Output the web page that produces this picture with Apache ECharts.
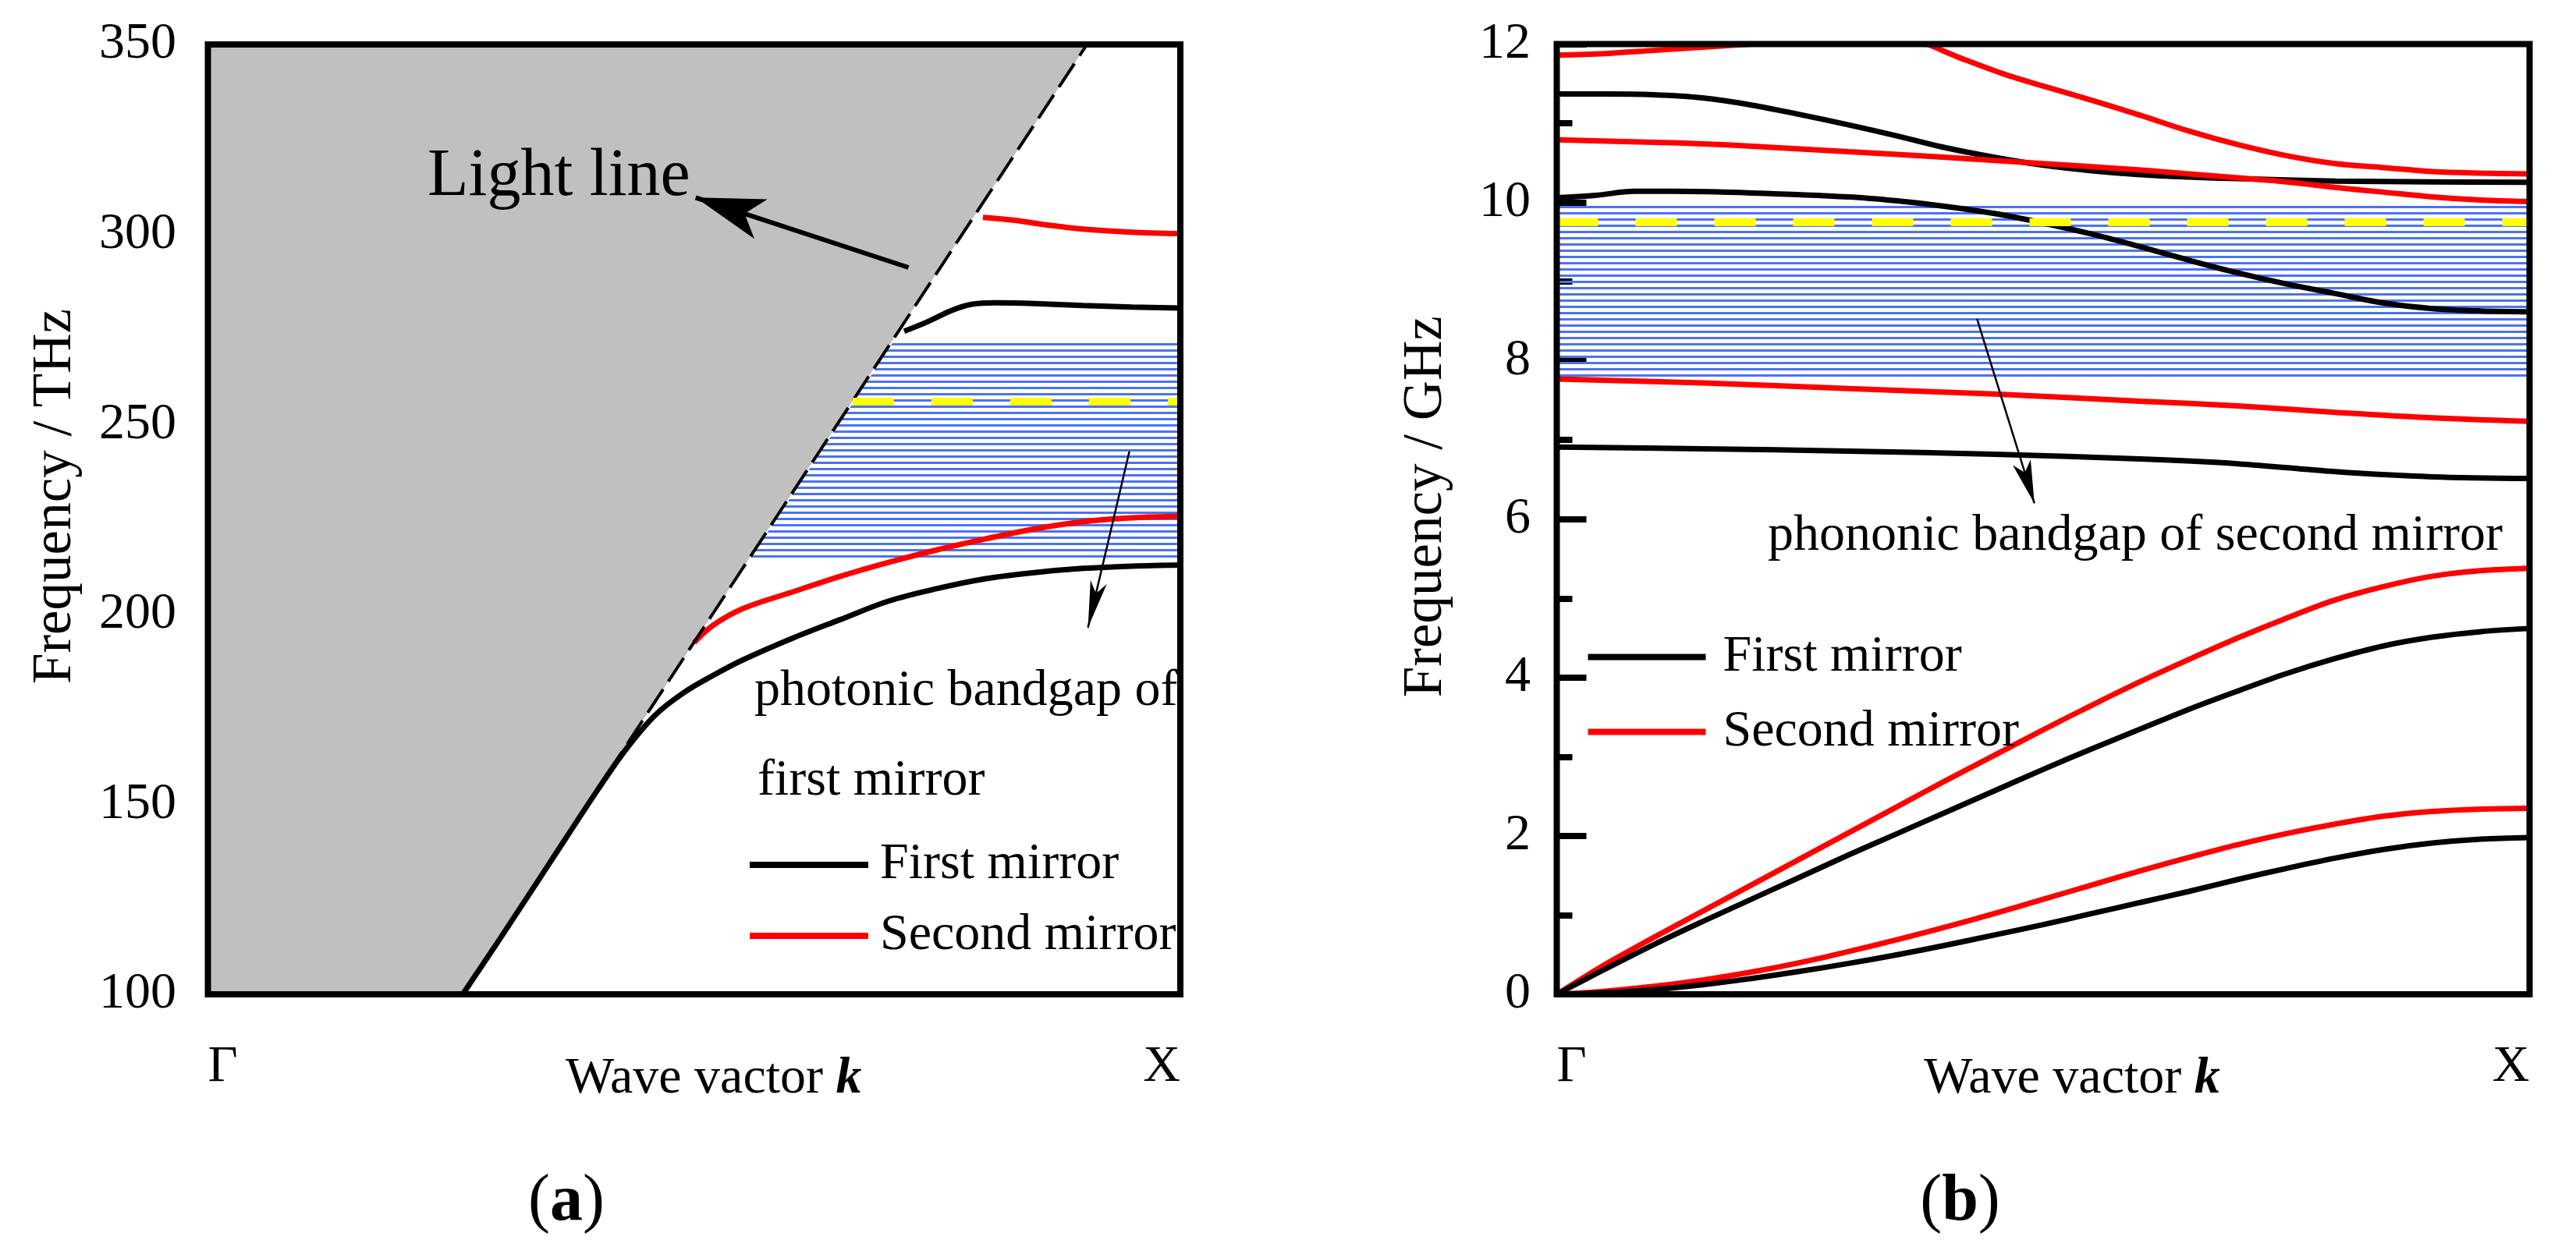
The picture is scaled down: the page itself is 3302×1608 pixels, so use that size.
<!DOCTYPE html>
<html>
<head>
<meta charset="utf-8">
<script src="https://cdn.jsdelivr.net/npm/echarts@6/dist/echarts.min.js"></script>
<style>html,body{margin:0;padding:0;background:#fff}#c{width:3302px;height:1608px}</style>
</head>
<body>
<div id="c"></div>
<script>
const FONT = "'Liberation Serif','Times New Roman',serif";

// ---------- shared ----------
const xTickLabels = ['Γ', 'X'];
const seriesNames = ['First mirror', 'Second mirror'];

// ---------- panel (a): photonic, THz ----------
const aYRange = [100, 350, 50];
const aLightLine = [[0.262, 100], [0.904, 350]];
const aLightCone = [[0, 100], [0.262, 100], [0.904, 350]];
const aBandGap = [[0.556, 214], [1, 214], [1, 271.8], [0.705, 271.8]];
const aYellow = [[0.663, 256], [1, 256]];
const aFirst1 = [[0.262,100],[0.3,114.5],[0.35,134],[0.4,153.5],[0.43,164.5],[0.46,173.5],[0.49,179.5],[0.52,184],[0.55,188],[0.6,193.6],[0.65,198.6],[0.7,203.5],[0.75,206.8],[0.8,209.4],[0.85,211],[0.9,212.1],[0.95,212.7],[1,213]];
const aSecond1 = [[0.5,192.6],[0.52,197.2],[0.55,201.5],[0.6,205.8],[0.65,210],[0.7,213.7],[0.75,217],[0.8,219.9],[0.85,222.5],[0.9,224.4],[0.95,225.4],[1,225.8]];
const aFirst2 = [[0.716,274.5],[0.74,277],[0.765,280],[0.785,281.6],[0.81,282],[0.85,281.8],[0.9,281.3],[0.95,280.9],[1,280.6]];
const aSecond2 = [[0.797,304.5],[0.83,303.7],[0.86,302.6],[0.9,301.4],[0.95,300.6],[1,300.2]];
const aArrowLight = [[0.7204, 291.3], [0.5016, 309.7]];
const aArrowGap = [[0.9476, 242.9], [0.905, 196.5]];

// ---------- panel (b): phononic, GHz ----------
const bYRange = [0, 12, 2];
const bBandGap = [[0, 7.79], [1, 7.79], [1, 9.96], [0, 9.96]];
const bYellow = [[0, 9.75], [1, 9.75]];
const bSecond1 = [[0,11.86],[0.05,11.88],[0.1,11.92],[0.15,11.96],[0.2,12.0],[0.25,12.03],[0.3,12.06],[0.35,12.04],[0.38,12.0],[0.4,11.9],[0.42,11.8],[0.46,11.62],[0.5,11.47],[0.55,11.29],[0.6,11.1],[0.65,10.9],[0.7,10.73],[0.75,10.59],[0.8,10.49],[0.85,10.44],[0.9,10.39],[0.95,10.37],[1,10.36]];
const bFirst1 = [[0,11.37],[0.05,11.37],[0.1,11.36],[0.15,11.32],[0.2,11.23],[0.25,11.11],[0.3,10.98],[0.35,10.84],[0.4,10.69],[0.45,10.57],[0.5,10.47],[0.55,10.4],[0.6,10.35],[0.65,10.32],[0.7,10.3],[0.8,10.27],[0.9,10.26],[1,10.255]];
const bSecond2 = [[0,10.79],[0.1,10.76],[0.15,10.74],[0.2,10.71],[0.3,10.64],[0.4,10.57],[0.5,10.49],[0.6,10.41],[0.65,10.36],[0.7,10.31],[0.75,10.26],[0.8,10.19],[0.85,10.13],[0.9,10.07],[0.95,10.03],[1,10.01]];
const bFirst2 = [[0,10.06],[0.04,10.09],[0.08,10.14],[0.12,10.14],[0.2,10.12],[0.3,10.07],[0.35,10.02],[0.4,9.95],[0.45,9.86],[0.5,9.74],[0.55,9.6],[0.6,9.44],[0.65,9.27],[0.7,9.11],[0.75,8.97],[0.8,8.85],[0.85,8.73],[0.9,8.66],[0.95,8.63],[1,8.62]];
const bSecond3 = [[0,7.77],[0.15,7.72],[0.3,7.65],[0.45,7.58],[0.6,7.49],[0.7,7.43],[0.8,7.35],[0.9,7.28],[1,7.235]];
const bFirst3 = [[0,6.91],[0.15,6.89],[0.3,6.86],[0.45,6.82],[0.6,6.76],[0.7,6.7],[0.8,6.6],[0.9,6.535],[1,6.515]];
const bSecond4 = [[0,0],[0.05,0.38],[0.1,0.72],[0.15,1.05],[0.2,1.38],[0.25,1.71],[0.3,2.04],[0.35,2.37],[0.4,2.7],[0.45,3.02],[0.5,3.34],[0.55,3.65],[0.6,3.95],[0.65,4.23],[0.7,4.5],[0.75,4.75],[0.8,4.98],[0.85,5.15],[0.9,5.28],[0.95,5.35],[1,5.38]];
const bFirst4 = [[0,0],[0.05,0.32],[0.1,0.63],[0.15,0.92],[0.2,1.2],[0.25,1.48],[0.3,1.76],[0.35,2.03],[0.4,2.3],[0.45,2.57],[0.5,2.84],[0.55,3.1],[0.6,3.35],[0.65,3.6],[0.7,3.83],[0.75,4.05],[0.8,4.24],[0.85,4.4],[0.9,4.51],[0.95,4.58],[1,4.62]];
const bSecond5 = [[0,0],[0.05,0.04],[0.1,0.1],[0.15,0.18],[0.2,0.28],[0.25,0.4],[0.3,0.54],[0.35,0.69],[0.4,0.85],[0.45,1.02],[0.5,1.2],[0.55,1.38],[0.6,1.56],[0.65,1.73],[0.7,1.89],[0.75,2.03],[0.8,2.15],[0.85,2.25],[0.9,2.31],[0.95,2.34],[1,2.35]];
const bFirst5 = [[0,0],[0.05,0.02],[0.1,0.06],[0.15,0.12],[0.2,0.2],[0.25,0.29],[0.3,0.39],[0.35,0.5],[0.4,0.62],[0.45,0.75],[0.5,0.88],[0.55,1.02],[0.6,1.16],[0.65,1.3],[0.7,1.45],[0.75,1.59],[0.8,1.72],[0.85,1.83],[0.9,1.91],[0.95,1.96],[1,1.98]];
const bArrow = [[0.432, 8.53], [0.491, 6.2]];

// ---------- styling helpers ----------
const BLUE = '#4a72f2', RED = '#ff0000', BLACK = '#000000', YELLOW = '#ffff00', GRAY = '#c0c0c0';

function makeHatch() {
  const c = document.createElement('canvas');
  c.width = 8; c.height = 8;
  const g = c.getContext('2d');
  g.fillStyle = BLUE;
  g.fillRect(0, 0, 8, 3);
  return c;
}
const HATCH = makeHatch();

function curve(name, data, gi) {
  const col = name === seriesNames[0] ? BLACK : RED;
  return {
    type: 'line', name: name, xAxisIndex: gi, yAxisIndex: gi, data: data,
    smooth: 0.35, showSymbol: false, symbol: 'none', z: 3,
    color: col, lineStyle: { width: 7, color: col, cap: 'butt' }, silent: true
  };
}
function band(poly, gi) {
  return {
    type: 'custom', xAxisIndex: gi, yAxisIndex: gi, z: 2, silent: true,
    data: poly,
    renderItem: function (params, api) {
      if (params.dataIndex !== 0) return null;
      return {
        type: 'polygon',
        shape: { points: poly.map(function (p) { return api.coord(p); }) },
        style: { fill: { image: HATCH, repeat: 'repeat' } }
      };
    }
  };
}
function yellow(data, gi, extra) {
  return Object.assign({
    type: 'line', xAxisIndex: gi, yAxisIndex: gi, data: data, showSymbol: false, symbol: 'none', z: 5,
    lineStyle: { width: 10, color: YELLOW, type: [53, 48], cap: 'butt' }, silent: true
  }, extra || {});
}
function arrow(pair, width, size) {
  return [
    { coord: pair[0], symbol: 'none', lineStyle: { width: width, color: BLACK, type: 'solid' } },
    { coord: pair[1], symbol: 'arrow', symbolSize: size, lineStyle: { width: width, color: BLACK, type: 'solid' } }
  ];
}

const axisLabelStyle = { fontFamily: FONT, fontSize: 66, color: '#000' };

function xAxisCfg(gi, pad) {
  return {
    gridIndex: gi, type: 'value', min: 0, max: 1, interval: 1,
    axisLine: { show: false }, axisTick: { show: false }, splitLine: { show: false },
    axisLabel: Object.assign({ margin: 61, formatter: function (v) { return xTickLabels[Math.round(v)]; },
      alignMinLabel: 'left', alignMaxLabel: 'right', showMinLabel: true, showMaxLabel: true }, axisLabelStyle),
    name: 'Wave vactor {k|k}', nameLocation: 'middle', nameGap: 76, nameMoveOverlap: false,
    nameTextStyle: { fontFamily: FONT, fontSize: 66, color: '#000', padding: [0, 0, 0, pad],
      rich: { k: { fontFamily: FONT, fontSize: 66, fontStyle: 'italic', fontWeight: 'bold', color: '#000' } } }
  };
}

const legendBase = {
  data: seriesNames, orient: 'vertical', padding: 0, itemHeight: 8, icon: 'rect', selectedMode: false
};

const option = {
  animation: false,
  backgroundColor: '#ffffff',
  grid: [
    { left: 266.5, top: 57, width: 1246.5, height: 1218, show: true, borderColor: '#000', borderWidth: 8, z: 10, backgroundColor: 'transparent' },
    { left: 1995.5, top: 56.5, width: 1247, height: 1218.5, show: true, borderColor: '#000', borderWidth: 8, z: 10, backgroundColor: 'transparent' }
  ],
  xAxis: [xAxisCfg(0, 50), xAxisCfg(1, 74)],
  yAxis: [
    {
      gridIndex: 0, type: 'value', min: aYRange[0], max: aYRange[1], interval: aYRange[2],
      axisLine: { show: false }, axisTick: { show: false }, splitLine: { show: false },
      axisLabel: Object.assign({ margin: 40.5 }, axisLabelStyle),
      name: 'Frequency / THz', nameLocation: 'middle', nameGap: 160, nameMoveOverlap: false,
      nameTextStyle: { fontFamily: FONT, fontSize: 71, color: '#000', padding: [0, 0, 0, 59] }
    },
    {
      gridIndex: 1, type: 'value', min: bYRange[0], max: bYRange[1], interval: bYRange[2],
      axisLine: { show: false }, splitLine: { show: false },
      axisTick: { show: true, inside: true, length: 38, lineStyle: { width: 8, color: '#000' } },
      minorTick: { show: true, splitNumber: 2, length: 20, lineStyle: { width: 8, color: '#000' } },
      axisLabel: Object.assign({ margin: 33.5 }, axisLabelStyle),
      name: 'Frequency / GHz', nameLocation: 'middle', nameGap: 132, nameMoveOverlap: false,
      nameTextStyle: { fontFamily: FONT, fontSize: 71, color: '#000', padding: [0, 0, 0, 32] }
    }
  ],
  legend: [
    Object.assign({}, legendBase, { left: 961, top: 1076, itemWidth: 152, itemGap: 25,
      textStyle: { fontFamily: FONT, fontSize: 66, color: '#000', lineHeight: 66, padding: [0, 0, 0, 10] } }),
    Object.assign({}, legendBase, { left: 2035.5, top: 809.4, itemWidth: 151, itemGap: 30,
      textStyle: { fontFamily: FONT, fontSize: 66, color: '#000', lineHeight: 66, padding: [0, 0, 0, 17] } })
  ],
  graphic: [
    { type: 'text', x: 548, y: 227, z: 20, style: { text: 'Light line', fontFamily: FONT, fontSize: 86, fill: '#000', align: 'left', verticalAlign: 'middle', textAlign: 'left', textVerticalAlign: 'middle' } },
    { type: 'text', x: 967, y: 886.7, z: 20, style: { text: 'photonic bandgap of', fontFamily: FONT, fontSize: 66, fill: '#000', align: 'left', verticalAlign: 'middle', textAlign: 'left', textVerticalAlign: 'middle' } },
    { type: 'text', x: 971, y: 1001.7, z: 20, style: { text: 'first mirror', fontFamily: FONT, fontSize: 66, fill: '#000', align: 'left', verticalAlign: 'middle', textAlign: 'left', textVerticalAlign: 'middle' } },
    { type: 'text', x: 2266, y: 687.7, z: 20, style: { text: 'phononic bandgap of second mirror', fontFamily: FONT, fontSize: 66, fill: '#000', align: 'left', verticalAlign: 'middle', textAlign: 'left', textVerticalAlign: 'middle' } },
    { type: 'text', x: 726, y: 1542, z: 20, style: { text: '({b|a})', fontFamily: FONT, fontSize: 84, fill: '#000', align: 'center', verticalAlign: 'middle', textAlign: 'center', textVerticalAlign: 'middle', rich: { b: { fontFamily: FONT, fontSize: 84, fontWeight: 'bold', fill: '#000' } } } },
    { type: 'text', x: 2512.5, y: 1542, z: 20, style: { text: '({b|b})', fontFamily: FONT, fontSize: 84, fill: '#000', align: 'center', verticalAlign: 'middle', textAlign: 'center', textVerticalAlign: 'middle', rich: { b: { fontFamily: FONT, fontSize: 84, fontWeight: 'bold', fill: '#000' } } } }
  ],
  series: [
    // panel a
    {
      type: 'line', xAxisIndex: 0, yAxisIndex: 0, data: aLightCone, showSymbol: false, symbol: 'none', z: 1, silent: true,
      lineStyle: { width: 0, color: GRAY }, areaStyle: { color: GRAY, opacity: 1, origin: 'end' }
    },
    band(aBandGap, 0),
    curve(seriesNames[0], aFirst1, 0),
    curve(seriesNames[1], aSecond1, 0),
    curve(seriesNames[0], aFirst2, 0),
    curve(seriesNames[1], aSecond2, 0),
    {
      type: 'line', xAxisIndex: 0, yAxisIndex: 0, data: aLightLine, showSymbol: false, symbol: 'none', z: 4, silent: true,
      lineStyle: { width: 4, color: BLACK, type: [36, 12] },
      markLine: { silent: true, animation: false, label: { show: false }, z: 6,
        data: [arrow(aArrowLight, 6, [40, 88]), arrow(aArrowGap, 2.5, [16, 60])] }
    },
    yellow(aYellow, 0),
    // panel b
    band(bBandGap, 1),
    curve(seriesNames[1], bSecond1, 1),
    curve(seriesNames[0], bFirst1, 1),
    curve(seriesNames[1], bSecond2, 1),
    curve(seriesNames[0], bFirst2, 1),
    curve(seriesNames[1], bSecond3, 1),
    curve(seriesNames[0], bFirst3, 1),
    curve(seriesNames[1], bSecond4, 1),
    curve(seriesNames[0], bFirst4, 1),
    curve(seriesNames[1], bSecond5, 1),
    curve(seriesNames[0], bFirst5, 1),
    yellow(bYellow, 1, {
      markLine: { silent: true, animation: false, label: { show: false }, z: 6,
        data: [arrow(bArrow, 2.5, [18, 55])] }
    })
  ]
};

const chart = echarts.init(document.getElementById('c'), null, { renderer: 'canvas', width: 3302, height: 1608 });
chart.setOption(option);
</script>
</body>
</html>
